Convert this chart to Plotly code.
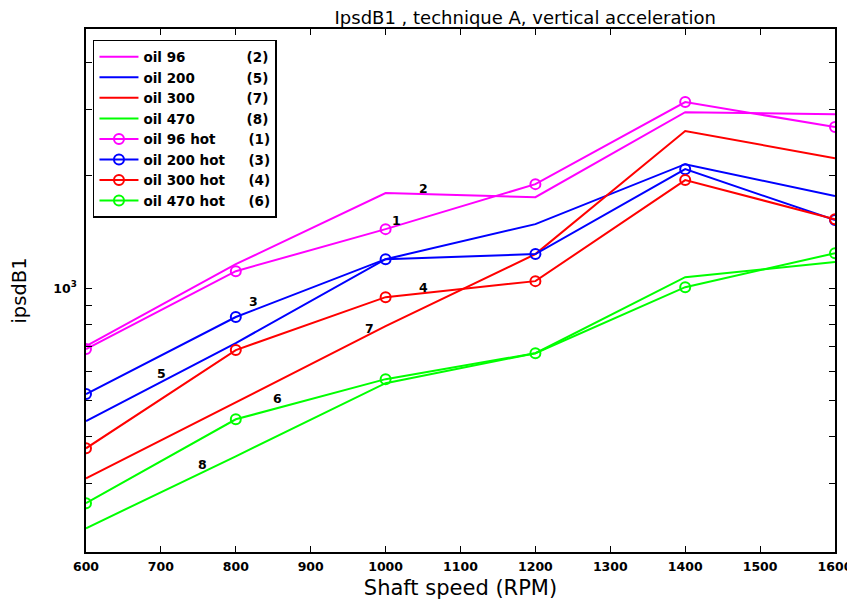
import numpy as np
import plotly.graph_objects as go

rpm = [600, 800, 1000, 1200, 1400, 1600]

oil96 = [700, 1159, 1795, 1751, 2955, 2919]
oil200 = [441, 713, 1195, 1483, 2145, 1762]
oil300 = [310, 496, 791, 1233, 2630, 2226]
oil470 = [228, 355, 557, 670, 1070, 1174]
oil96_hot = [687, 1110, 1438, 1897, 3144, 2696]
oil200_hot = [521, 837, 1195, 1233, 2080, 1520]
oil300_hot = [373, 683, 946, 1044, 1945, 1529]
oil470_hot = [266, 446, 571, 670, 1006, 1240]

series_names = ["oil 96", "oil 200", "oil 300", "oil 470",
                "oil 96 hot", "oil 200 hot", "oil 300 hot", "oil 470 hot"]
series_ids = ["(2)", "(5)", "(7)", "(8)", "(1)", "(3)", "(4)", "(6)"]
series_vals = [oil96, oil200, oil300, oil470,
               oil96_hot, oil200_hot, oil300_hot, oil470_hot]
series_colors = ["#ff00ff", "#0000ff", "#ff0000", "#00ff00",
                 "#ff00ff", "#0000ff", "#ff0000", "#00ff00"]
series_markers = [False, False, False, False, True, True, True, True]
pad_counts = [13, 11, 11, 11, 7, 5, 5, 5]

# curve number labels placed on the chart
label_text = ["2", "1", "3", "5", "4", "7", "6", "8"]
label_x = [1051, 1015, 824, 701, 1051, 978, 856, 756]
label_y = [1851, 1520, 923, 593, 1006, 782, 508, 338]

ymajor_vals = [1000]
ymajor_text = ["10<sup>3</sup>"]
yminor_vals = [300, 400, 500, 600, 700, 800, 900, 2000, 3000, 4000]
xtick_vals = list(range(600, 1601, 100))

SANS = "DejaVu Sans, sans-serif"
W, H = 855, 594  # page body adds an 8px margin

fig = go.Figure()
for name, sid, vals, col, mk, npad in zip(series_names, series_ids, series_vals,
                                          series_colors, series_markers, pad_counts):
    fig.add_trace(go.Scatter(
        x=rpm, y=vals,
        mode="lines+markers" if mk else "lines",
        name=name + "\u00a0" * npad + sid,
        line=dict(color=col, width=2),
        marker=dict(symbol="circle-open", size=10, color=col,
                    line=dict(color=col, width=2)),
    ))

for t, lx, ly in zip(label_text, label_x, label_y):
    fig.add_annotation(x=lx, y=np.log10(ly), xref="x", yref="y", text=t,
                       showarrow=False,
                       font=dict(family=SANS, size=12.5, color="black", weight="bold"))

fig.update_layout(
    width=W, height=H,
    margin=dict(l=78, r=28, t=21, b=50),
    paper_bgcolor="white", plot_bgcolor="white",
    font=dict(family=SANS, color="black"),
    title=dict(text="IpsdB1 , technique A, vertical acceleration",
               x=0.5865, xref="paper", xanchor="center",
               y=1 - 9.5 / H, yref="container", yanchor="middle",
               font=dict(family=SANS, size=18, color="black")),
    showlegend=True,
    legend=dict(x=0.0093, y=0.979, xanchor="left", yanchor="top",
                bgcolor="white", bordercolor="black", borderwidth=1.5,
                font=dict(family=SANS, size=13.5, color="black", weight="bold"),
                tracegroupgap=0, itemwidth=39),
)

fig.update_xaxes(
    automargin=False,
    range=[600, 1600], tickvals=xtick_vals,
    ticks="inside", ticklen=6, tickwidth=1, tickcolor="black",
    ticklabelstandoff=2,
    showline=True, linecolor="black", linewidth=1.5, mirror="ticks",
    showgrid=False, zeroline=False,
    tickfont=dict(family=SANS, size=12.5, color="black", weight="bold"),
    title=dict(text="Shaft speed (RPM)", standoff=8,
               font=dict(family=SANS, size=21, color="black")),
)
fig.update_yaxes(
    automargin=False,
    type="log", range=[np.log10(197), np.log10(4930)],
    tickvals=ymajor_vals, ticktext=ymajor_text,
    ticks="inside", ticklen=6, tickwidth=1, tickcolor="black",
    ticklabelstandoff=5,
    minor=dict(tickvals=yminor_vals, ticks="inside", ticklen=6,
               tickwidth=1, tickcolor="black"),
    showline=True, linecolor="black", linewidth=1.5, mirror="ticks",
    showgrid=False, zeroline=False,
    tickfont=dict(family=SANS, size=12.5, color="black", weight="bold"),
    title=dict(text="ipsdB1", standoff=22,
               font=dict(family=SANS, size=19.5, color="black")),
)

fig.write_html("out.html")
